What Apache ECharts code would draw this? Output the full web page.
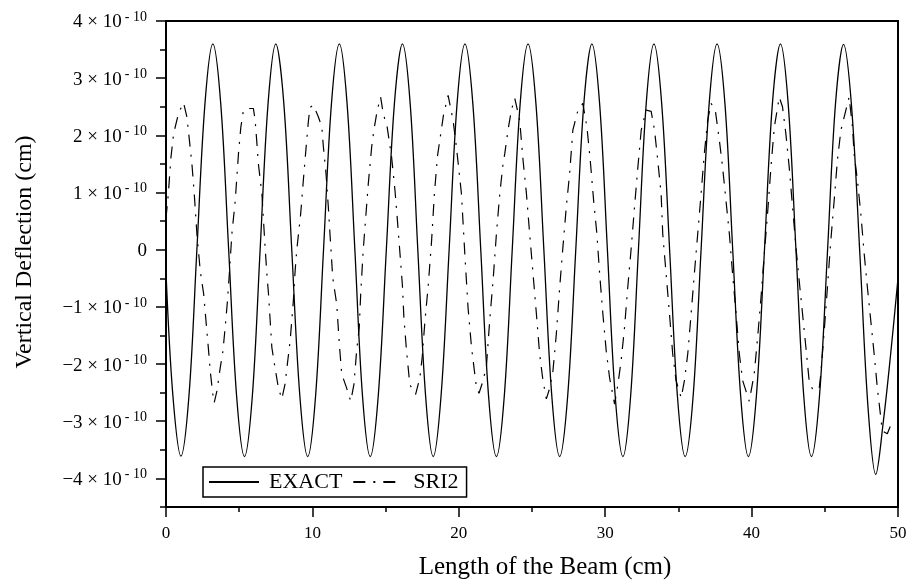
<!DOCTYPE html>
<html>
<head>
<meta charset="utf-8">
<script src="https://cdn.jsdelivr.net/npm/echarts@6/dist/echarts.min.js"></script>
<style>
  html, body { margin: 0; padding: 0; background: #fff; }
  #chart { width: 906px; height: 582px; }
</style>
</head>
<body>
<div id="chart"></div>
<script>
// Deflection values are stored in units of 1e-10 cm; x in cm.
const xRange = [0, 50];
const yRange = [-4.5, 4];
const xTickValues = [0, 10, 20, 30, 40, 50];
const yTickValues = [-4, -3, -2, -1, 0, 1, 2, 3, 4];
const yHalfTickValues = [-4.5, -3.5, -2.5, -1.5, -0.5, 0.5, 1.5, 2.5, 3.5];
const seriesNames = ['EXACT', 'SRI2'];

const exact = [
  [0,-0.40],[0.47,-2.55],[1.02,-3.61],
  [1.57,-2.55],[2.11,0],[2.66,2.55],[3.20,3.60],
  [3.74,2.55],[4.28,0],[4.82,-2.55],[5.36,-3.62],
  [5.90,-2.55],[6.43,0],[6.97,2.55],[7.50,3.60],
  [8.05,2.55],[8.59,0],[9.14,-2.55],[9.68,-3.62],
  [10.22,-2.55],[10.76,0],[11.30,2.55],[11.84,3.60],
  [12.37,2.55],[12.90,0],[13.42,-2.55],[13.95,-3.62],
  [14.50,-2.55],[15.05,0],[15.60,2.55],[16.15,3.60],
  [16.68,2.55],[17.20,0],[17.73,-2.55],[18.25,-3.62],
  [18.79,-2.55],[19.34,0],[19.88,2.55],[20.42,3.60],
  [20.96,2.55],[21.50,0],[22.03,-2.55],[22.57,-3.62],
  [23.11,-2.55],[23.65,0],[24.19,2.55],[24.73,3.60],
  [25.27,2.55],[25.81,0],[26.35,-2.55],[26.89,-3.62],
  [27.44,-2.55],[27.99,0],[28.54,2.55],[29.09,3.60],
  [29.62,2.55],[30.15,0],[30.68,-2.55],[31.21,-3.62],
  [31.74,-2.55],[32.27,0],[32.80,2.55],[33.33,3.60],
  [33.86,2.55],[34.40,0],[34.93,-2.55],[35.46,-3.62],
  [36.01,-2.55],[36.55,0],[37.10,2.55],[37.64,3.60],
  [38.18,2.55],[38.71,0],[39.25,-2.55],[39.78,-3.62],
  [40.33,-2.55],[40.88,0],[41.42,2.55],[41.97,3.60],
  [42.50,2.55],[43.03,0],[43.56,-2.55],[44.09,-3.62],
  [44.64,-2.55],[45.19,0],[45.73,2.55],[46.28,3.59],
  [46.83,2.50],[47.40,-0.10],[47.95,-2.75],[48.48,-3.93],
  [49.00,-3.00],[49.50,-1.82],[50.00,-0.50]
];

const sri2 = [
  [0,0.55],[0.15,0.95],[0.34,1.62],[0.52,2.03],[0.86,2.39],[1.20,2.57],[1.43,2.32],[1.77,1.50],
  [1.93,0.98],[2.11,0.28],[2.34,-0.37],[2.57,-0.77],[2.75,-1.30],[2.91,-1.77],[3.02,-2.12],[3.20,-2.53],
  [3.29,-2.68],[3.48,-2.47],[3.70,-2.07],[3.89,-1.77],[4.04,-1.36],[4.20,-0.89],[4.34,-0.37],[4.50,0.28],
  [4.73,0.86],[4.95,1.68],[5.11,2.14],[5.29,2.44],[5.60,2.47],[5.97,2.47],[6.09,2.26],[6.21,1.86],
  [6.31,1.50],[6.55,0.98],[6.77,0.04],[6.89,-0.42],[7.00,-0.77],[7.23,-1.71],[7.45,-2.07],[7.68,-2.42],
  [7.91,-2.61],[8.13,-2.35],[8.29,-2.00],[8.48,-1.59],[8.70,-0.89],[8.82,-0.37],[8.93,-0.01],[9.20,0.63],
  [9.38,1.21],[9.57,1.79],[9.73,2.26],[9.84,2.49],[10.07,2.53],[10.41,2.32],[10.64,2.15],[10.75,1.80],
  [10.93,1.33],[11.09,0.74],[11.20,0.28],[11.39,-0.49],[11.66,-0.95],[11.84,-1.65],[12.00,-2.17],[12.34,-2.42],
  [12.62,-2.65],[12.84,-2.35],[13.02,-1.77],[13.20,-1.36],[13.30,-0.77],[13.47,-0.01],[13.59,0.39],[13.82,1.16],
  [14.05,1.80],[14.20,2.09],[14.43,2.44],[14.66,2.67],[14.84,2.38],[15.11,2.14],[15.41,1.62],[15.64,1.04],
  [15.79,0.57],[15.98,-0.06],[16.15,-0.63],[16.25,-1.19],[16.43,-1.77],[16.61,-2.24],[16.70,-2.38],[17.05,-2.53],
  [17.34,-2.24],[17.50,-1.88],[17.68,-1.27],[17.91,-0.63],[18.14,0.15],[18.33,0.97],[18.55,1.65],[18.78,2.05],
  [18.95,2.35],[19.27,2.70],[19.61,2.26],[19.84,1.79],[20.18,0.98],[20.41,-0.07],[20.63,-1.01],[20.87,-1.71],
  [21.21,-2.42],[21.38,-2.51],[21.66,-2.29],[21.89,-2.03],[22.11,-1.24],[22.34,-0.54],[22.57,0.28],[22.80,0.98],
  [23.02,1.50],[23.14,1.68],[23.36,2.09],[23.59,2.44],[23.82,2.65],[24.16,2.26],[24.39,1.56],[24.62,0.98],
  [24.84,0.28],[25.07,-0.42],[25.30,-1.12],[25.52,-1.82],[25.75,-2.29],[25.98,-2.61],[26.21,-2.42],[26.43,-2.12],
  [26.66,-1.48],[26.89,-0.66],[27.11,0.04],[27.34,0.74],[27.57,1.33],[27.79,2.09],[28.14,2.44],[28.47,2.56],
  [28.75,2.15],[28.98,1.56],[29.21,0.86],[29.43,0.28],[29.62,-0.42],[29.84,-1.12],[30.07,-1.77],[30.30,-2.24],
  [30.64,-2.70],[30.86,-2.37],[31.09,-1.94],[31.32,-1.36],[31.54,-0.66],[31.78,0.04],[32.00,0.74],[32.23,1.44],
  [32.46,2.09],[32.80,2.44],[33.14,2.42],[33.37,2.09],[33.59,1.56],[33.82,0.98],[33.93,0.28],[34.16,-0.42],
  [34.39,-1.12],[34.61,-1.82],[34.84,-2.29],[35.19,-2.59],[35.41,-2.29],[35.64,-1.82],[35.87,-1.12],[36.09,-0.42],
  [36.32,0.28],[36.55,0.98],[36.77,1.68],[37.00,2.26],[37.23,2.56],[37.52,2.44],[37.80,1.91],[38.02,1.44],
  [38.25,0.86],[38.48,0.28],[38.70,-0.42],[38.94,-1.12],[39.16,-1.82],[39.39,-2.29],[39.84,-2.65],[40.18,-2.17],
  [40.41,-1.54],[40.64,-0.84],[40.87,-0.07],[41.09,0.63],[41.32,1.44],[41.55,2.14],[41.89,2.67],[42.11,2.50],
  [42.34,2.03],[42.57,1.44],[42.80,0.74],[43.03,0.04],[43.25,-0.54],[43.48,-1.12],[43.71,-1.71],[43.93,-2.29],
  [44.16,-2.44],[44.61,-2.44],[44.73,-2.17],[44.96,-1.42],[45.18,-0.66],[45.41,0.16],[45.64,0.86],[45.86,1.56],
  [46.10,2.09],[46.44,2.44],[46.66,2.67],[46.89,2.15],[47.00,1.68],[47.23,1.21],[47.46,0.63],[47.69,-0.07],
  [47.91,-0.66],[48.14,-1.24],[48.37,-1.82],[48.59,-2.42],[48.93,-3.17],[49.27,-3.22],[49.61,-3.00]
];

const FONT = '"Liberation Serif", "Times New Roman", serif';
const INK = '#000';

function yLabel(v) {
  if (Math.abs(v) < 1e-9) return '{n|0}';
  const sign = v < 0 ? '\u2212' : '';
  return '{n|' + sign + Math.abs(v) + ' \u00d7 10}{s|- 10}';
}

const chart = echarts.init(document.getElementById('chart'), null, { renderer: 'canvas' });

chart.setOption({
  backgroundColor: '#fff',
  animation: false,
  grid: {
    left: 166, right: 8, top: 21, bottom: 75,
    outerBoundsMode: 'none',
    containLabel: false,
    show: true, borderColor: INK, borderWidth: 2, backgroundColor: 'transparent'
  },
  legend: {
    data: seriesNames,
    left: 203, top: 467,
    orient: 'horizontal',
    borderColor: INK, borderWidth: 1.5, borderRadius: 0,
    padding: [4, 8, 4, 5],
    itemWidth: 50, itemHeight: 14, itemGap: 10,
    itemStyle: { opacity: 0, borderWidth: 0 },
    textStyle: { fontFamily: FONT, fontSize: 22, color: INK, padding: [0, 0, 0, 5] }
  },
  xAxis: {
    type: 'value', min: xRange[0], max: xRange[1], interval: 10,
    axisLine: { show: true, onZero: false, lineStyle: { color: INK, width: 2 } },
    axisTick: { show: true, inside: false, length: 10, lineStyle: { color: INK, width: 1.5 } },
    minorTick: { show: true, splitNumber: 2, length: 5, lineStyle: { color: INK, width: 1.5 } },
    axisLabel: {
      customValues: xTickValues,
      fontFamily: FONT, fontSize: 17, color: INK, margin: 18
    },
    splitLine: { show: false }
  },
  yAxis: [
    {
      type: 'value', min: yRange[0], max: yRange[1], interval: 0.5,
      axisLine: { show: true, onZero: false, lineStyle: { color: INK, width: 2 } },
      axisTick: { show: true, inside: false, length: 10, customValues: yTickValues,
                  lineStyle: { color: INK, width: 1.5 } },
      axisLabel: {
        customValues: yTickValues,
        margin: 19,
        formatter: yLabel,
        rich: {
          n: { fontFamily: FONT, fontSize: 19, color: INK, lineHeight: 22, verticalAlign: 'bottom' },
          s: { fontFamily: FONT, fontSize: 14, color: INK, lineHeight: 22, verticalAlign: 'top',
               padding: [0, 0, 0, 3] }
        }
      },
      splitLine: { show: false }
    },
    {
      type: 'value', min: yRange[0], max: yRange[1], interval: 0.5, position: 'left',
      axisLine: { show: false },
      axisTick: { show: true, inside: false, length: 6, customValues: yHalfTickValues,
                  lineStyle: { color: INK, width: 1.5 } },
      axisLabel: { show: false },
      splitLine: { show: false }
    }
  ],
  series: [
    {
      name: seriesNames[0], type: 'line', data: exact,
      symbol: 'none', showSymbol: false, smooth: 0.35,
      lineStyle: { color: INK, width: 1.3, type: 'solid' },
      itemStyle: { color: INK },
      z: 3
    },
    {
      name: seriesNames[1], type: 'line', data: sri2,
      symbol: 'none', showSymbol: false,
      lineStyle: { color: INK, width: 1.2, type: [12, 8, 2, 8] },
      itemStyle: { color: INK },
      z: 2
    }
  ],
  graphic: [
    {
      type: 'text', x: 545, y: 567,
      style: { text: 'Length of the Beam (cm)', font: '25px ' + FONT,
               fill: INK, align: 'center', verticalAlign: 'middle' }
    },
    {
      type: 'text', x: 25, y: 252, rotation: Math.PI / 2,
      style: { text: 'Vertical Deflection (cm)', font: '24px ' + FONT,
               fill: INK, align: 'center', verticalAlign: 'middle' }
    }
  ]
});
</script>
</body>
</html>
